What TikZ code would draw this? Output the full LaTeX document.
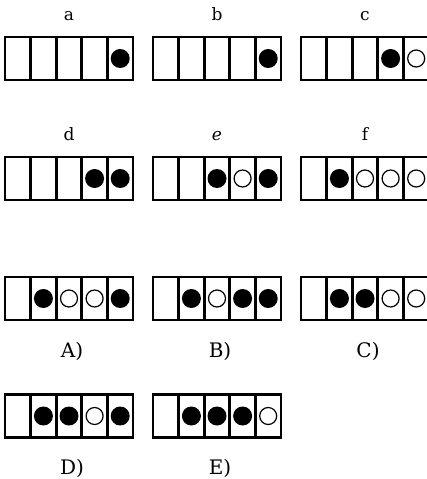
\documentclass[tikz,border=0pt]{standalone}
\usepackage{fontspec}
\setmainfont{DejaVu Serif}
\usetikzlibrary{positioning}

% one row of five slots: name, left x, centre y, contents
\newcommand{\slotrow}[4]{%
  \foreach \s [count=\i] in {#4} {
    \node[cell] (#1\i) at ({#2+25.6*\i-12.8}, #3) {};
    \node[\s] (#1m\i) at (#1\i) {};
  }}

\begin{document}
\begin{tikzpicture}[
  x=1pt, y=-1pt,
  cell/.style={draw, line width=2.9pt, minimum width=25.6pt,
               minimum height=43pt, inner sep=0pt, outer sep=0pt},
  full/.style={circle, fill=black, minimum size=19pt, inner sep=0pt},
  hollow/.style={circle, draw, line width=1.2pt, minimum size=17pt, inner sep=0pt},
  blank/.style={inner sep=0pt},
  toplbl/.style={font=\fontsize{17}{19}\selectfont},
  botlbl/.style={font=\fontsize{20}{22}\selectfont, xshift=3pt}
]
\useasboundingbox (0,0) rectangle (427,479);

\slotrow{a}{5}{58.5}{blank,blank,blank,blank,full}
\slotrow{b}{153}{58.5}{blank,blank,blank,blank,full}
\slotrow{c}{301}{58.5}{blank,blank,blank,full,hollow}
\slotrow{d}{5}{178.5}{blank,blank,blank,full,full}
\slotrow{e}{153}{178.5}{blank,blank,full,hollow,full}
\slotrow{f}{301}{178.5}{blank,full,hollow,hollow,hollow}
\slotrow{A}{5}{298.5}{blank,full,hollow,hollow,full}
\slotrow{B}{153}{298.5}{blank,full,hollow,full,full}
\slotrow{C}{301}{298.5}{blank,full,full,hollow,hollow}
\slotrow{D}{5}{416}{blank,full,full,hollow,full}
\slotrow{E}{153}{416}{blank,full,full,full,hollow}

% labels
\node[toplbl, above=17pt of a3, anchor=base] (la) {a};
\node[toplbl, above=17pt of b3, anchor=base] (lb) {b};
\node[toplbl, above=17pt of c3, anchor=base] (lc) {c};
\node[toplbl, above=17pt of d3, anchor=base] (ld) {d};
\node[toplbl, above=17pt of e3, anchor=base] (le) {\textit{e}};
\node[toplbl, above=17pt of f3, anchor=base] (lf) {f};
\node[botlbl, below=37pt of A3, anchor=base] (lA) {A)};
\node[botlbl, below=37pt of B3, anchor=base] (lB) {B)};
\node[botlbl, below=37pt of C3, anchor=base] (lC) {C)};
\node[botlbl, below=37pt of D3, anchor=base] (lD) {D)};
\node[botlbl, below=37pt of E3, anchor=base] (lE) {E)};
\end{tikzpicture}
\end{document}
